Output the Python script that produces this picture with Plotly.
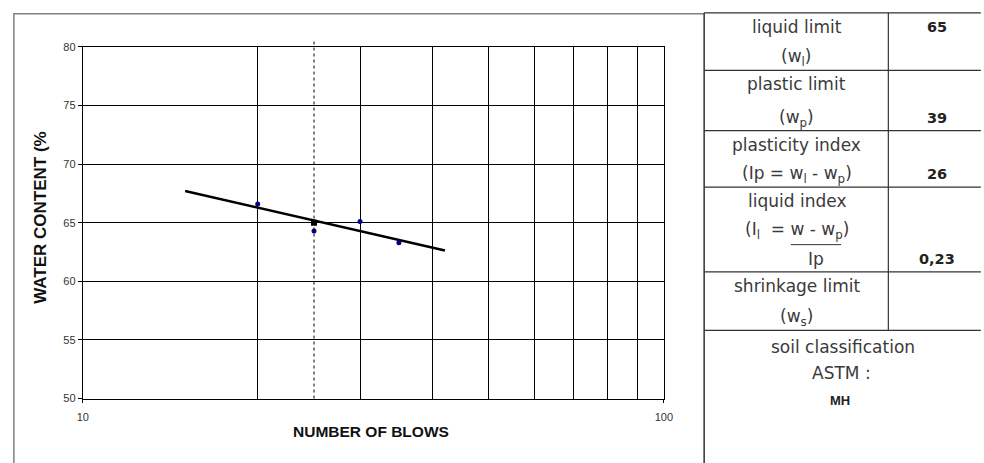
import numpy as np
import plotly.graph_objects as go

# Atterberg liquid-limit test: number of blows vs water content (%)
blows = [20, 25, 30, 35]
water_content = [66.6, 64.3, 65.1, 63.3]
trend_blows = [15, 42]          # extent of the fitted flow line
x_ticks = [10, 100]
x_grid = [20, 30, 40, 50, 60, 70, 80, 90]
y_range = [50, 80]

# Results table
liquid_limit = 65
plastic_limit = 39
plasticity_index = 26
liquid_index = "0,23"
classification = "MH"

W, H = 984, 463


def px(x):
    return x / W


def py(y):
    return 1 - y / H


# flow line: linear fit of water content against log10(blows)
coef = np.polyfit(np.log10(blows), water_content, 1)
trend_w = np.polyval(coef, np.log10(trend_blows))

fig = go.Figure()
fig.add_trace(go.Scatter(
    x=trend_blows, y=trend_w, mode="lines",
    line=dict(color="black", width=2.5), hoverinfo="skip", showlegend=False))
fig.add_trace(go.Scatter(
    x=blows, y=water_content, mode="markers",
    marker=dict(color="#000080", size=5, symbol="circle"), showlegend=False))
fig.add_trace(go.Scatter(
    x=[25], y=[liquid_limit], mode="markers",
    marker=dict(color="black", size=6, symbol="square"), showlegend=False))

axis_font = dict(family="Liberation Sans, Arial, sans-serif", size=11, color="#333")

fig.update_layout(
    width=W, height=H,
    margin=dict(l=0, r=0, t=0, b=0),
    paper_bgcolor="white", plot_bgcolor="white",
    xaxis=dict(
        type="log", range=[1, 2], domain=[px(78), px(668)],
        tickvals=x_ticks, ticktext=[str(v) for v in x_ticks],
        ticks="outside", ticklen=3, tickcolor="black", tickfont=axis_font,
        ticklabelstandoff=5,
        showgrid=False, zeroline=False,
        showline=True, mirror=True, linecolor="black", linewidth=1,
        minor=dict(tickvals=x_grid, showgrid=True, gridcolor="black",
                   gridwidth=1, ticks=""),
    ),
    yaxis=dict(
        range=y_range, domain=[py(403), py(42)],
        tick0=50, dtick=5,
        ticks="outside", ticklen=4, tickcolor="black", tickfont=axis_font,
        showgrid=True, gridcolor="black", gridwidth=1, zeroline=False,
        showline=True, mirror=True, linecolor="black", linewidth=1,
    ),
)

shapes = []
# vertical dashed marker at 25 blows
shapes.append(dict(type="line", xref="x", yref="paper", x0=25, x1=25,
                   y0=py(403), y1=py(36),
                   line=dict(color="black", width=1, dash="3px,3px")))
# chart frame
shapes.append(dict(type="rect", xref="paper", yref="paper",
                   x0=px(8), x1=px(709), y0=py(470), y1=py(8),
                   line=dict(color="#808080", width=1.5)))
# results table lines
tcol = "#333"
rows_y = [7, 66, 128, 186, 273, 333]
for yy in rows_y:
    shapes.append(dict(type="line", xref="paper", yref="paper",
                       x0=px(709), x1=px(990), y0=py(yy), y1=py(yy),
                       line=dict(color=tcol, width=1.2)))
shapes.append(dict(type="line", xref="paper", yref="paper",
                   x0=px(709), x1=px(709), y0=py(7), y1=py(470),
                   line=dict(color=tcol, width=1.2)))
shapes.append(dict(type="line", xref="paper", yref="paper",
                   x0=px(896), x1=px(896), y0=py(7), y1=py(333),
                   line=dict(color=tcol, width=1.2)))
# fraction bar of the liquid index formula
shapes.append(dict(type="line", xref="paper", yref="paper",
                   x0=px(797), x1=px(848), y0=py(245), y1=py(245),
                   line=dict(color="#333", width=1)))
fig.update_layout(shapes=shapes)

ann = []
title_font = dict(family="Liberation Sans, Arial, sans-serif", size=15.5, color="#111")
ann.append(dict(text="<b>NUMBER OF BLOWS</b>", x=px(371), y=py(437),
                font=title_font))
ann.append(dict(text="<b>WATER CONTENT (%</b>", x=px(35), y=py(217),
                textangle=-90, font=dict(title_font, size=17)))

label_font = dict(family="DejaVu Sans, sans-serif", size=17, color="#3a3a3a")
value_font = dict(family="DejaVu Sans, sans-serif", size=14.5, color="#222")
lx, vx = 803, 945
labels = [
    ("liquid limit", 22), ("(w<sub>l</sub>)", 53),
    ("plastic limit", 80), ("(w<sub>p</sub>)", 115),
    ("plasticity index", 143), ("(Ip = w<sub>l</sub> - w<sub>p</sub>)", 173),
    ("liquid index", 200), ("(I<sub>l</sub>  = w - w<sub>p</sub>)", 230),
    ("shrinkage limit", 287), ("(w<sub>s</sub>)", 320),
]
for t, yy in labels:
    ann.append(dict(text=t, x=px(lx), y=py(yy), font=label_font))
ann.append(dict(text="Ip", x=px(823), y=py(260), font=label_font))
values = [(str(liquid_limit), 22), (str(plastic_limit), 115),
          (str(plasticity_index), 172), (liquid_index, 260)]
for t, yy in values:
    ann.append(dict(text="<b>" + t + "</b>", x=px(vx), y=py(yy), font=value_font))
ann.append(dict(text="soil classification", x=px(850), y=py(350), font=label_font))
ann.append(dict(text="ASTM :", x=px(848), y=py(377), font=label_font))
ann.append(dict(text="<b>" + classification + "</b>", x=px(847), y=py(405),
                font=dict(family="Liberation Sans, Arial, sans-serif", size=13, color="#222")))

for a in ann:
    a.update(xref="paper", yref="paper", showarrow=False,
             xanchor="center", yanchor="middle")
fig.update_layout(annotations=ann)

fig.write_html("out.html", config={"displayModeBar": False})
